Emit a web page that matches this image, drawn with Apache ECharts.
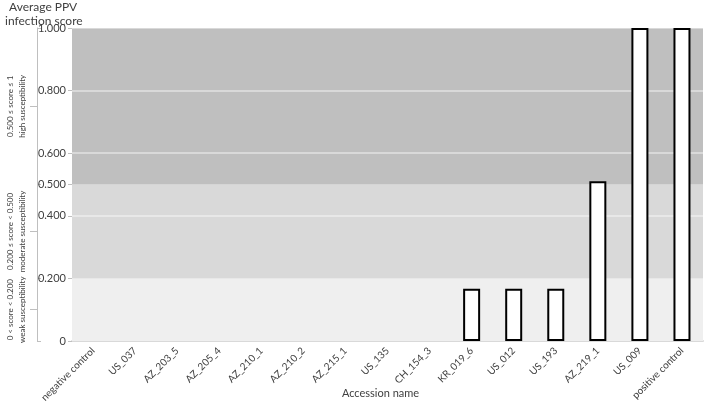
<!DOCTYPE html>
<html>
<head>
<meta charset="utf-8">
<script src="https://cdn.jsdelivr.net/npm/echarts@6/dist/echarts.min.js"></script>
<style>
  html, body { margin: 0; padding: 0; background: #fff; }
  #chart { width: 708px; height: 402px; }
</style>
</head>
<body>
<div id="chart"></div>
<script>
const categories = ['negative control', 'US_037', 'AZ_203_5', 'AZ_205_4', 'AZ_210_1', 'AZ_210_2',
  'AZ_215_1', 'US_135', 'CH_154_3', 'KR_019_6', 'US_012', 'US_193', 'AZ_219_1', 'US_009', 'positive control']
const scores = [0, 0, 0, 0, 0, 0, 0, 0, 0, 0.167, 0.167, 0.167, 0.51, 1, 1]

const valueTicks = [0, 0.2, 0.4, 0.5, 0.6, 0.8, 1]
const gridValues = [0.4, 0.6, 0.8, 1]
const bandEdges = [0, 0.2, 0.5, 1]
const bandColors = ['#efefef', '#d9d9d9', '#bfbfbf']
const bandMids = [0.1, 0.35, 0.75]
const bandLabels = ['0 < score < 0.200\nweak susceptibility',
  '0.200 ≤ score < 0.500\nmoderate susceptibility',
  '0.500 ≤ score ≤ 1\nhigh susceptibility']

const font = 'Lato'
const chart = echarts.init(document.getElementById('chart'))

const axisCommon = { type: 'value', min: 0, max: 1, position: 'left', splitLine: { show: false } }
const titleStyle = { fontFamily: font, fontSize: 12, fontWeight: 'normal', color: '#404040' }

chart.setOption({
  animation: false,
  title: [
    { text: 'Average PPV', left: 9, top: 1, padding: 0, textStyle: titleStyle },
    { text: 'infection score', left: 5, top: 15, padding: 0, textStyle: titleStyle }
  ],
  grid: { left: 72, right: 5, top: 28, bottom: 61, outerBoundsMode: 'none' },
  xAxis: {
    type: 'category',
    data: categories,
    name: 'Accession name',
    nameLocation: 'middle',
    nameGap: 47,
    nameMoveOverlap: false,
    nameTextStyle: { fontFamily: font, fontSize: 11, color: '#404040', padding: [0, 14, 0, 0] },
    axisLine: { lineStyle: { color: '#d9d9d9', width: 2 } },
    axisTick: { show: false },
    axisLabel: { rotate: 45, interval: 0, fontFamily: font, fontSize: 10, color: '#404040', margin: 8 }
  },
  yAxis: [
    Object.assign({}, axisCommon, {
      axisLine: { show: false },
      axisTick: { show: true, length: 4, customValues: valueTicks, lineStyle: { color: '#bfbfbf' } },
      axisLabel: {
        customValues: valueTicks, margin: 6,
        fontFamily: font, fontSize: 11, color: '#404040',
        formatter: v => v === 0 ? '0' : v.toFixed(3)
      }
    }),
    Object.assign({}, axisCommon, {
      offset: 35,
      axisLine: { show: true, lineStyle: { color: '#bfbfbf' } },
      axisTick: { show: true, inside: true, length: 4, customValues: bandEdges, lineStyle: { color: '#bfbfbf' } },
      axisLabel: { show: false }
    }),
    Object.assign({}, axisCommon, {
      offset: 35,
      axisLine: { show: false },
      axisTick: { show: true, length: 7, customValues: bandMids, lineStyle: { color: '#bfbfbf' } },
      axisLabel: {
        customValues: bandMids, rotate: 90, margin: 9, hideOverlap: false,
        showMinLabel: true, showMaxLabel: true,
        fontFamily: font, fontSize: 8, color: '#404040', lineHeight: 12,
        formatter: v => bandLabels[bandMids.indexOf(v)]
      }
    })
  ],
  series: [
    {
      type: 'line',
      data: [],
      z: 1,
      silent: true,
      markArea: {
        silent: true,
        data: bandColors.map((c, i) => [
          { yAxis: bandEdges[i], itemStyle: { color: c } },
          { yAxis: bandEdges[i + 1] }
        ])
      },
      markLine: {
        silent: true,
        symbol: 'none',
        label: { show: false },
        lineStyle: { color: '#ffffff', opacity: 0.55, type: 'solid', width: 1.5 },
        data: gridValues.map(v => ({ yAxis: v }))
      }
    },
    {
      type: 'bar',
      z: 5,
      barWidth: 17,
      itemStyle: { color: '#ffffff', borderColor: '#000000', borderWidth: 2 },
      data: scores.map(v => v === 0 ? { value: v, itemStyle: { borderWidth: 0, opacity: 0 } } : v)
    }
  ]
})
</script>
</body>
</html>
